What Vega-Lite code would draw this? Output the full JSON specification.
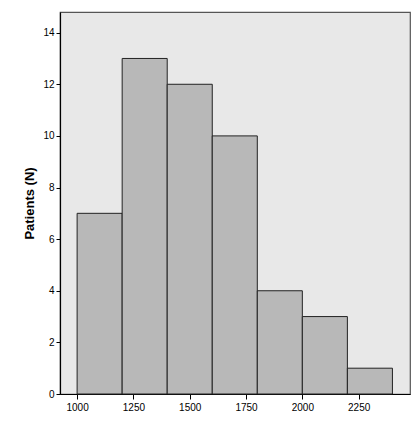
{
  "$schema": "https://vega.github.io/schema/vega-lite/v6.json",
  "width": 350,
  "height": 382,
  "autosize": {"type": "none"},
  "padding": {"left": 60, "top": 12, "right": 8, "bottom": 28},
  "background": "#ffffff",
  "config": {
    "view": {"fill": "#e8e8e8", "stroke": "#555555", "strokeWidth": 1.2},
    "font": "Liberation Sans"
  },
  "data": {
    "values": [
      {"start": 1000, "end": 1200, "count": 7},
      {"start": 1200, "end": 1400, "count": 13},
      {"start": 1400, "end": 1600, "count": 12},
      {"start": 1600, "end": 1800, "count": 10},
      {"start": 1800, "end": 2000, "count": 4},
      {"start": 2000, "end": 2200, "count": 3},
      {"start": 2200, "end": 2400, "count": 1}
    ]
  },
  "mark": {"type": "rect", "fill": "#b8b8b8", "stroke": "#222222", "strokeWidth": 1},
  "encoding": {
    "x": {
      "field": "start",
      "type": "quantitative",
      "scale": {"domain": [924, 2478], "nice": false, "zero": false},
      "axis": {
        "values": [1000, 1250, 1500, 1750, 2000, 2250],
        "format": "d",
        "title": null,
        "grid": false,
        "domainColor": "#000000",
        "domainWidth": 1.2,
        "tickColor": "#000000",
        "tickSize": 5,
        "labelFontSize": 10,
        "labelColor": "#000000",
        "labelPadding": 3
      }
    },
    "x2": {"field": "end"},
    "y": {
      "field": "count",
      "type": "quantitative",
      "scale": {"domain": [0, 14.8], "nice": false},
      "axis": {
        "values": [0, 2, 4, 6, 8, 10, 12, 14],
        "format": "d",
        "title": "Patients (N)",
        "titleFontSize": 13,
        "titleFontWeight": "bold",
        "titleColor": "#000000",
        "titlePadding": 6,
        "grid": false,
        "domainColor": "#000000",
        "domainWidth": 1.2,
        "tickColor": "#000000",
        "tickSize": 4,
        "labelFontSize": 10,
        "labelColor": "#000000",
        "labelPadding": 2
      }
    },
    "y2": {"datum": 0}
  }
}
